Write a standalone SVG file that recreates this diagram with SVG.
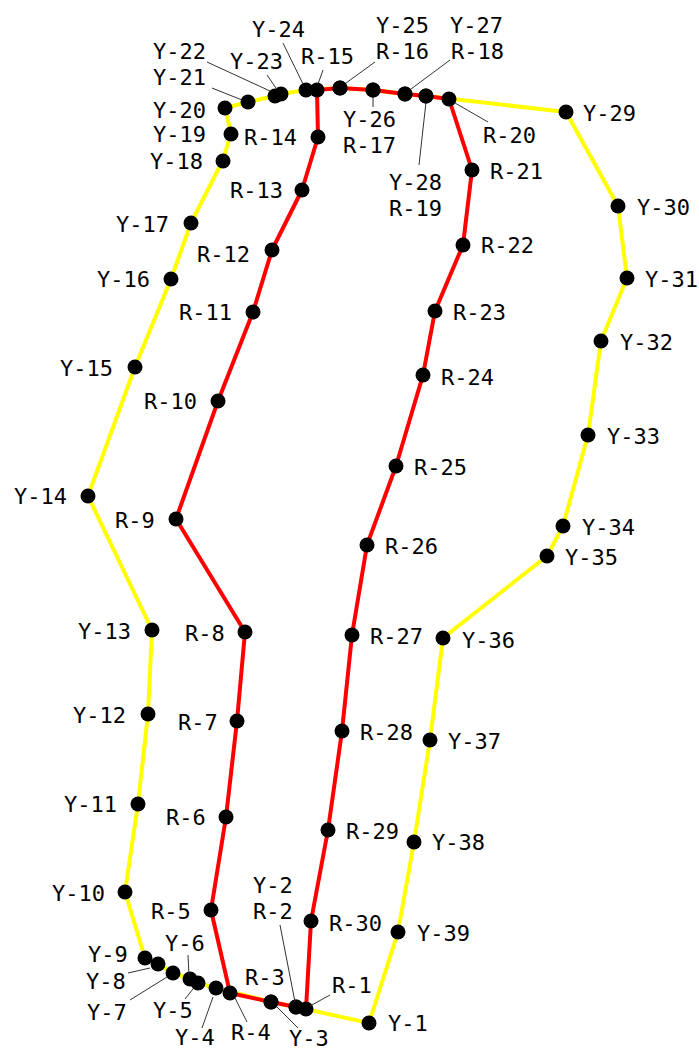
<svg xmlns="http://www.w3.org/2000/svg" width="699" height="1053" viewBox="0 0 699 1053">
<style>
.bg{fill:#fff}
.red{fill:none;stroke:#ff0000;stroke-width:4;stroke-linejoin:round}
.yel{fill:none;stroke:#ffff00;stroke-width:4;stroke-linejoin:round}
.dot{fill:#000}
.lead{stroke:#333;stroke-width:1}
text{font-family:"DejaVu Sans Mono","Liberation Mono",monospace;font-size:22px;fill:#000}
</style>
<rect class="bg" width="699" height="1053"/>
<g id="connectors">
<polygon class="yel" points="369,1023 296,1007 271,1002 216,988 198,983 190,979 173,973 158,964 145,958 125,892 138,804 148,714 152,630 88,496 135,367 171,279 191,223 223,160 231,133 225,108 248,102 275,96 281,94 306,90 340,88 373,90 405,94 426,96 566,112 618,206 627,278 601,341 588,435 563,526 547,556 443,638 430,740 414,842 398,932"/>
<polygon class="red" points="306,1009 296,1007 271,1002 230,993 211,910 226,817 237,721 245,632 176,519 218,401 253,312 272,250 302,190 318,137 317,90 340,88 373,90 405,94 426,96 449,99 472,170 463,245 435,311 423,375 396,466 367,545 352,635 342,731 328,830 311,921"/>
</g>
<g id="Y-1"><circle class="dot" cx="369" cy="1023" r="7.5"/><text x="388" y="1031">Y-1</text></g>
<g id="Y-2"><circle class="dot" cx="296" cy="1007" r="7.5"/><text x="253" y="893">Y-2</text></g>
<g id="R-2"><circle class="dot" cx="296" cy="1007" r="7.5"/><line class="lead" x1="280" y1="925" x2="295" y2="1002"/><text x="253" y="919">R-2</text></g>
<g id="R-1"><circle class="dot" cx="306" cy="1009" r="7.5"/><line class="lead" x1="330" y1="995" x2="310" y2="1006"/><text x="332" y="993">R-1</text></g>
<g id="R-3"><circle class="dot" cx="271" cy="1002" r="7.5"/><text x="245" y="985">R-3</text></g>
<g id="Y-3"><circle class="dot" cx="271" cy="1002" r="7.5"/><line class="lead" x1="298" y1="1028" x2="277" y2="1007"/><text x="289" y="1046">Y-3</text></g>
<g id="R-4"><circle class="dot" cx="230" cy="993" r="7.5"/><line class="lead" x1="247" y1="1022" x2="235" y2="998"/><text x="231" y="1040">R-4</text></g>
<g id="Y-4"><circle class="dot" cx="216" cy="988" r="7.5"/><line class="lead" x1="202" y1="1028" x2="213" y2="997"/><text x="175" y="1045">Y-4</text></g>
<g id="Y-5"><circle class="dot" cx="198" cy="983" r="7.5"/><line class="lead" x1="185" y1="999" x2="193" y2="989"/><text x="153" y="1018">Y-5</text></g>
<g id="Y-6"><circle class="dot" cx="190" cy="979" r="7.5"/><line class="lead" x1="188" y1="955" x2="189" y2="975"/><text x="165" y="951">Y-6</text></g>
<g id="Y-7"><circle class="dot" cx="173" cy="973" r="7.5"/><line class="lead" x1="130" y1="1000" x2="167" y2="977"/><text x="87" y="1020">Y-7</text></g>
<g id="Y-8"><circle class="dot" cx="158" cy="964" r="7.5"/><line class="lead" x1="128" y1="973" x2="150" y2="968"/><text x="86" y="989">Y-8</text></g>
<g id="Y-9"><circle class="dot" cx="145" cy="958" r="7.5"/><text x="88" y="962">Y-9</text></g>
<g id="Y-10"><circle class="dot" cx="125" cy="892" r="7.5"/><text x="52" y="901">Y-10</text></g>
<g id="Y-11"><circle class="dot" cx="138" cy="804" r="7.5"/><text x="64" y="812">Y-11</text></g>
<g id="Y-12"><circle class="dot" cx="148" cy="714" r="7.5"/><text x="73" y="723">Y-12</text></g>
<g id="Y-13"><circle class="dot" cx="152" cy="630" r="7.5"/><text x="78" y="639">Y-13</text></g>
<g id="Y-14"><circle class="dot" cx="88" cy="496" r="7.5"/><text x="14" y="504">Y-14</text></g>
<g id="Y-15"><circle class="dot" cx="135" cy="367" r="7.5"/><text x="60" y="376">Y-15</text></g>
<g id="Y-16"><circle class="dot" cx="171" cy="279" r="7.5"/><text x="97" y="287">Y-16</text></g>
<g id="Y-17"><circle class="dot" cx="191" cy="223" r="7.5"/><text x="116" y="232">Y-17</text></g>
<g id="Y-18"><circle class="dot" cx="223" cy="161" r="7.5"/><text x="150" y="169">Y-18</text></g>
<g id="Y-19"><circle class="dot" cx="231" cy="134" r="7.5"/><text x="153" y="142">Y-19</text></g>
<g id="Y-20"><circle class="dot" cx="225" cy="108" r="7.5"/><text x="153" y="118">Y-20</text></g>
<g id="Y-21"><circle class="dot" cx="248" cy="102" r="7.5"/><line class="lead" x1="212" y1="88" x2="242" y2="100"/><text x="153" y="85">Y-21</text></g>
<g id="Y-22"><circle class="dot" cx="275" cy="96" r="7.5"/><line class="lead" x1="207" y1="62" x2="270" y2="91"/><text x="153" y="59">Y-22</text></g>
<g id="Y-23"><circle class="dot" cx="281" cy="94" r="7.5"/><line class="lead" x1="267" y1="75" x2="276" y2="88"/><text x="230" y="69">Y-23</text></g>
<g id="Y-24"><circle class="dot" cx="306" cy="90" r="7.5"/><line class="lead" x1="283" y1="43" x2="303" y2="84"/><text x="252" y="37">Y-24</text></g>
<g id="R-15"><circle class="dot" cx="317" cy="90" r="7.5"/><line class="lead" x1="323" y1="70" x2="318" y2="84"/><text x="301" y="64">R-15</text></g>
<g id="Y-25"><circle class="dot" cx="340" cy="88" r="7.5"/><text x="376" y="33">Y-25</text></g>
<g id="R-16"><circle class="dot" cx="340" cy="88" r="7.5"/><line class="lead" x1="375" y1="62" x2="346" y2="83"/><text x="376" y="59">R-16</text></g>
<g id="Y-26"><circle class="dot" cx="373" cy="90" r="7.5"/><line class="lead" x1="373" y1="96" x2="373" y2="107"/><text x="343" y="127">Y-26</text></g>
<g id="R-17"><circle class="dot" cx="373" cy="90" r="7.5"/><text x="343" y="153">R-17</text></g>
<g id="Y-27"><circle class="dot" cx="405" cy="94" r="7.5"/><text x="450" y="33">Y-27</text></g>
<g id="R-18"><circle class="dot" cx="405" cy="94" r="7.5"/><line class="lead" x1="450" y1="60" x2="411" y2="89"/><text x="451" y="59">R-18</text></g>
<g id="Y-28"><circle class="dot" cx="426" cy="96" r="7.5"/><line class="lead" x1="426" y1="102" x2="419" y2="165"/><text x="389" y="190">Y-28</text></g>
<g id="R-19"><circle class="dot" cx="426" cy="96" r="7.5"/><text x="389" y="216">R-19</text></g>
<g id="R-20"><circle class="dot" cx="449" cy="99" r="7.5"/><line class="lead" x1="455" y1="103" x2="488" y2="122"/><text x="483" y="143">R-20</text></g>
<g id="R-14"><circle class="dot" cx="318" cy="137" r="7.5"/><text x="244" y="145">R-14</text></g>
<g id="R-13"><circle class="dot" cx="302" cy="190" r="7.5"/><text x="230" y="198">R-13</text></g>
<g id="R-12"><circle class="dot" cx="272" cy="250" r="7.5"/><text x="197" y="262">R-12</text></g>
<g id="R-11"><circle class="dot" cx="253" cy="312" r="7.5"/><text x="179" y="320">R-11</text></g>
<g id="R-10"><circle class="dot" cx="218" cy="401" r="7.5"/><text x="144" y="409">R-10</text></g>
<g id="R-9"><circle class="dot" cx="176" cy="519" r="7.5"/><text x="115" y="528">R-9</text></g>
<g id="R-8"><circle class="dot" cx="245" cy="632" r="7.5"/><text x="185" y="641">R-8</text></g>
<g id="R-7"><circle class="dot" cx="237" cy="721" r="7.5"/><text x="178" y="730">R-7</text></g>
<g id="R-6"><circle class="dot" cx="226" cy="817" r="7.5"/><text x="166" y="825">R-6</text></g>
<g id="R-5"><circle class="dot" cx="211" cy="910" r="7.5"/><text x="151" y="919">R-5</text></g>
<g id="R-21"><circle class="dot" cx="472" cy="170" r="7.5"/><text x="490" y="179">R-21</text></g>
<g id="R-22"><circle class="dot" cx="463" cy="245" r="7.5"/><text x="481" y="253">R-22</text></g>
<g id="R-23"><circle class="dot" cx="435" cy="311" r="7.5"/><text x="453" y="320">R-23</text></g>
<g id="R-24"><circle class="dot" cx="423" cy="375" r="7.5"/><text x="441" y="385">R-24</text></g>
<g id="R-25"><circle class="dot" cx="396" cy="466" r="7.5"/><text x="414" y="475">R-25</text></g>
<g id="R-26"><circle class="dot" cx="367" cy="545" r="7.5"/><text x="385" y="554">R-26</text></g>
<g id="R-27"><circle class="dot" cx="352" cy="635" r="7.5"/><text x="370" y="644">R-27</text></g>
<g id="R-28"><circle class="dot" cx="342" cy="731" r="7.5"/><text x="360" y="740">R-28</text></g>
<g id="R-29"><circle class="dot" cx="328" cy="830" r="7.5"/><text x="346" y="839">R-29</text></g>
<g id="R-30"><circle class="dot" cx="311" cy="921" r="7.5"/><text x="329" y="931">R-30</text></g>
<g id="Y-29"><circle class="dot" cx="566" cy="112" r="7.5"/><text x="583" y="121">Y-29</text></g>
<g id="Y-30"><circle class="dot" cx="618" cy="206" r="7.5"/><text x="637" y="215">Y-30</text></g>
<g id="Y-31"><circle class="dot" cx="627" cy="278" r="7.5"/><text x="645" y="287">Y-31</text></g>
<g id="Y-32"><circle class="dot" cx="601" cy="341" r="7.5"/><text x="620" y="350">Y-32</text></g>
<g id="Y-33"><circle class="dot" cx="588" cy="435" r="7.5"/><text x="607" y="444">Y-33</text></g>
<g id="Y-34"><circle class="dot" cx="563" cy="526" r="7.5"/><text x="582" y="535">Y-34</text></g>
<g id="Y-35"><circle class="dot" cx="547" cy="556" r="7.5"/><text x="565" y="565">Y-35</text></g>
<g id="Y-36"><circle class="dot" cx="443" cy="638" r="7.5"/><text x="462" y="648">Y-36</text></g>
<g id="Y-37"><circle class="dot" cx="430" cy="740" r="7.5"/><text x="448" y="749">Y-37</text></g>
<g id="Y-38"><circle class="dot" cx="414" cy="842" r="7.5"/><text x="432" y="850">Y-38</text></g>
<g id="Y-39"><circle class="dot" cx="398" cy="932" r="7.5"/><text x="417" y="941">Y-39</text></g>
</svg>
